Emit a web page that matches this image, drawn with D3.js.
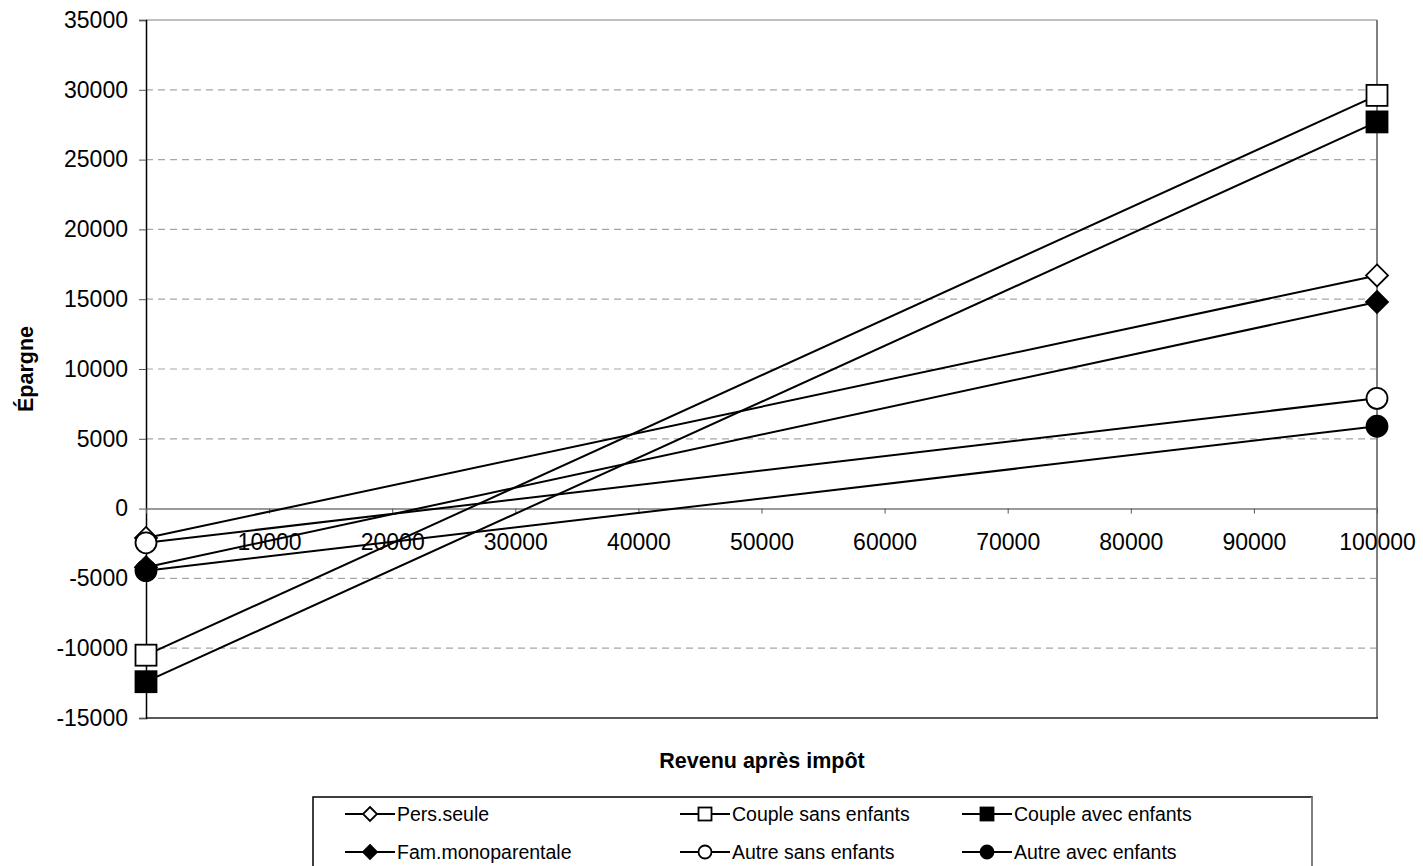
<!DOCTYPE html>
<html><head><meta charset="utf-8">
<script src="https://cdn.jsdelivr.net/npm/d3@7"></script>
<style>body{margin:0;background:#fff}svg{display:block;font-family:"Liberation Sans",Arial,sans-serif}</style>
</head><body><svg id="c" width="1423" height="866"></svg>
<script>
const xValues = [0, 100000];
const seriesNames = ["Pers.seule","Couple sans enfants","Couple avec enfants","Fam.monoparentale","Autre sans enfants","Autre avec enfants"];
const persSeule = [-2100, 16700];
const coupleSans = [-10500, 29600];
const coupleAvec = [-12400, 27700];
const famMono = [-4200, 14800];
const autreSans = [-2450, 7900];
const autreAvec = [-4450, 5900];
const markerShapes = ["diamond","square","square","diamond","circle","circle"];
const markerFilled = [false,false,true,true,false,true];
const yTicks = [-15000,-10000,-5000,0,5000,10000,15000,20000,25000,30000,35000];
const xTicks = [0,10000,20000,30000,40000,50000,60000,70000,80000,90000,100000];

const seriesValues = [persSeule, coupleSans, coupleAvec, famMono, autreSans, autreAvec];
const svg = d3.select("#c");
const x = d3.scaleLinear().domain([0,100000]).range([146,1377]);
const y = d3.scaleLinear().domain([-15000,35000]).range([718,20]);
const fmt = d => String(d);

// gridlines
svg.append("g").selectAll("line").data(yTicks.filter(t=>t!==0 && t!==-15000)).join("line")
  .attr("x1",146).attr("x2",1377).attr("y1",d=>y(d)).attr("y2",d=>y(d))
  .attr("stroke",d=>d===35000?"#808080":"#a6a6a6").attr("stroke-width",1.2).attr("stroke-dasharray",d=>d===35000?null:"7,5");
// borders
svg.append("line").attr("x1",1377).attr("x2",1377).attr("y1",20).attr("y2",718).attr("stroke","#808080").attr("stroke-width",2);
svg.append("line").attr("x1",146).attr("x2",1378).attr("y1",718).attr("y2",718).attr("stroke","#222").attr("stroke-width",1.5);

// y axis
const yAxis = d3.axisLeft(y).tickValues(yTicks).tickSize(7).tickPadding(11).tickFormat(fmt);
const gy = svg.append("g").attr("transform","translate(146,0)").call(yAxis);
gy.select(".domain").attr("stroke","#000").attr("stroke-width",1.5);
gy.selectAll(".tick line").attr("stroke","#555");
gy.selectAll("text").attr("font-size",23).attr("fill","#000").attr("font-family","Liberation Sans, Arial, sans-serif");

// x axis at y=0
const xAxis = d3.axisBottom(x).tickValues(xTicks).tickSize(5).tickPadding(20).tickFormat(fmt).tickSizeOuter(0);
const gx = svg.append("g").attr("transform",`translate(0,${y(0)})`).call(xAxis);
gx.select(".domain").attr("stroke","#777").attr("stroke-width",1.5);
gx.selectAll(".tick line").attr("stroke","#555");
gx.selectAll("text").attr("font-size",23).attr("fill","#000").attr("dy","0.71em").attr("font-family","Liberation Sans, Arial, sans-serif");

// titles
svg.append("text").attr("x",762).attr("y",768).attr("text-anchor","middle").attr("font-weight","bold").attr("font-size",21.5).text("Revenu après impôt");
svg.append("text").attr("transform","translate(33,369) rotate(-90)").attr("text-anchor","middle").attr("font-weight","bold").attr("font-size",21.5).text("Épargne");

function drawMarker(g, shape, filled, cx, cy, s){
  const fill = filled ? "#000" : "#fff";
  if(shape==="square"){
    g.append("rect").attr("x",cx-s/2).attr("y",cy-s/2).attr("width",s).attr("height",s).attr("fill",fill).attr("stroke","#000").attr("stroke-width",1.8);
  } else if(shape==="circle"){
    g.append("circle").attr("cx",cx).attr("cy",cy).attr("r",s/2).attr("fill",fill).attr("stroke","#000").attr("stroke-width",1.8);
  } else {
    const h=s/2;
    g.append("path").attr("d",`M${cx},${cy-h}L${cx+h},${cy}L${cx},${cy+h}L${cx-h},${cy}Z`).attr("fill",fill).attr("stroke","#000").attr("stroke-width",1.8);
  }
}

const line = d3.line().x((d,i)=>x(xValues[i])).y(d=>y(d));
seriesValues.forEach((vals,si)=>{
  const g = svg.append("g");
  g.append("path").datum(vals).attr("d",line).attr("fill","none").attr("stroke","#000").attr("stroke-width",2);
  vals.forEach((v,i)=>drawMarker(g, markerShapes[si], markerFilled[si], x(xValues[i]), y(v), markerShapes[si]==="diamond"?22:21));
});

// legend
const lg = svg.append("g");
lg.append("rect").attr("x",313).attr("y",797).attr("width",999).attr("height",90).attr("fill","#fff").attr("stroke","#000").attr("stroke-width",1.5);
lg.append("line").attr("x1",1312).attr("x2",1312).attr("y1",797).attr("y2",866).attr("stroke","#808080").attr("stroke-width",2);
const colX = [370, 705, 987];
const rowY = [814, 852];
seriesNames.forEach((name,i)=>{
  const cx = colX[i%3], cy = rowY[Math.floor(i/3)];
  lg.append("line").attr("x1",cx-25).attr("x2",cx+25).attr("y1",cy).attr("y2",cy).attr("stroke","#000").attr("stroke-width",2);
  drawMarker(lg, markerShapes[i], markerFilled[i], cx, cy, markerShapes[i]==="diamond"?14:13);
  lg.append("text").attr("x",cx+27).attr("y",cy).attr("dy","0.35em").attr("font-size",19.5).text(name);
});
</script></body></html>
